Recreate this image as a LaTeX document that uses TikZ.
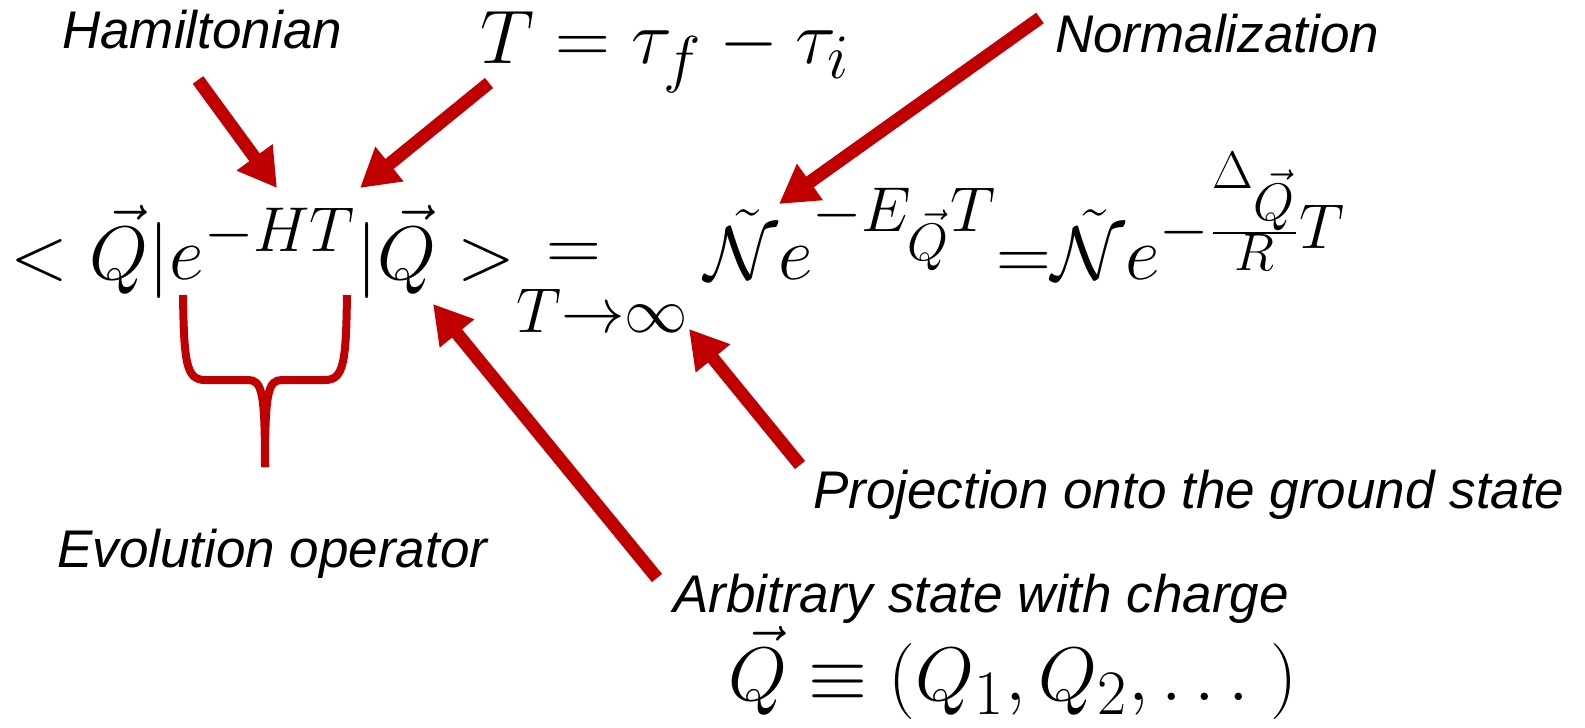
\documentclass[tikz,border=0pt]{standalone}
\usepackage{fontspec}
\newfontfamily\labfont{Liberation Sans}
\usetikzlibrary{arrows.meta}
\definecolor{arrowred}{RGB}{192,0,0}
\begin{document}
\begin{tikzpicture}[x=1pt,y=-1pt,
  lab/.style={inner sep=0pt,anchor=base west,font=\labfont\itshape\fontsize{53}{60}\selectfont},
  mathbig/.style={inner sep=0pt,anchor=base west,scale=3.055,font=\Huge},
  redarrow/.style={draw=arrowred,line width=13pt,-{Triangle[length=38pt,width=42pt]}},
  bracestyle/.style={draw=arrowred,line width=8pt,line cap=butt}]
\useasboundingbox (0,0) rectangle (1585,728);
% labels
\node[lab] (ham) at (62,48) {Hamiltonian};
\node[lab] (norm) at (1055,52) {Normalization};
\node[lab] (proj) at (813,508) {Projection onto the ground state};
\node[lab] (evol) at (57,567) {Evolution operator};
\node[lab] (arb) at (673,612) {Arbitrary state with charge};
% math
\node[mathbig] (tdef) at (480,63) {$T=\tau_f-\tau_i$};
\node[mathbig] (lhs) at (10,279) {$<\vec{Q}|e^{-HT}|\vec{Q}>$};
\node[inner sep=0pt,scale=3.055,font=\Huge] (eq) at (574,257) {$=$};
\node[inner sep=0pt,anchor=base west,scale=3.055,font=\Huge] (lim) at (516,332) {$\scriptstyle T\to\infty$};
\node[mathbig] (rhs) at (704,279) {$\tilde{\mathcal{N}}e^{-E_{\vec{Q}}T}{=}\tilde{\mathcal{N}}e^{-\frac{\Delta_{\vec{Q}}}{R}T}$};
\node[mathbig] (qdef) at (728,700) {$\vec{Q}\equiv(Q_1,Q_2,\ldots\mkern5mu)$};
% arrow end points
\coordinate (hamS) at (198,80);
\coordinate (hamT) at (277,188);
\coordinate (tS) at (489,83);
\coordinate (tT) at (360,188);
\coordinate (normS) at (1040,18);
\coordinate (normT) at (779,204);
\coordinate (arbS) at (657,578);
\coordinate (arbT) at (433,304);
\coordinate (projS) at (800,465);
\coordinate (projT) at (689,329);
\draw[redarrow] (hamS) -- (hamT);
\draw[redarrow] (tS) -- (tT);
\draw[redarrow] (normS) -- (normT);
\draw[redarrow] (arbS) -- (arbT);
\draw[redarrow] (projS) -- (projT);
% brace
\coordinate (bl) at (183,295);
\coordinate (br) at (347,295);
\coordinate (btip) at (265,467);
\draw[bracestyle] (bl) .. controls (184,362) and (186,380) .. (205,380) -- (248,380) .. controls (262,380) and (265,392) .. (btip);
\draw[bracestyle] (br) .. controls (346,362) and (344,380) .. (325,380) -- (282,380) .. controls (268,380) and (265,392) .. (btip);
\end{tikzpicture}
\end{document}
